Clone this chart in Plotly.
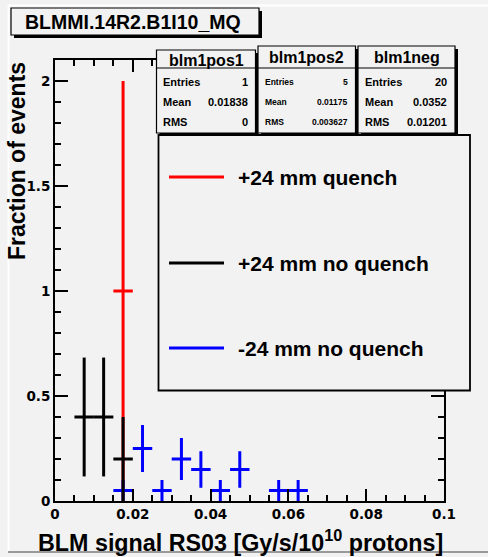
import plotly.graph_objects as go

# ---------------- data ----------------
bin_width = 0.005

red_x = [0.0175]
red_y = [1.0]
red_err = [1.0]

black_x = [0.0075, 0.0125, 0.0175]
black_y = [0.4, 0.4, 0.2]
black_err = [0.283, 0.283, 0.2]

blue_x = [0.0175, 0.0225, 0.0275, 0.0325, 0.0375, 0.0425, 0.0475, 0.0575, 0.0625]
blue_y = [0.05, 0.25, 0.05, 0.20, 0.15, 0.05, 0.15, 0.05, 0.05]
blue_err = [0.05, 0.112, 0.05, 0.10, 0.087, 0.05, 0.087, 0.05, 0.05]

series_names = ["+24 mm quench", "+24 mm no quench", "-24 mm no quench"]
stat_titles = ["blm1pos1", "blm1pos2", "blm1neg"]
stat_entries = ["1", "5", "20"]
stat_means = ["0.01838", "0.01175", "0.0352"]
stat_rms = ["0", "0.003627", "0.01201"]

x_ticks = [0, 0.02, 0.04, 0.06, 0.08, 0.1]
x_ticktext = ["0", "0.02", "0.04", "0.06", "0.08", "0.1"]
y_ticks = [0, 0.5, 1, 1.5, 2]
y_ticktext = ["0", "0.5", "1", "1.5", "2"]

# ---------------- layout geometry (pixels) ----------------
W, H = 488, 557
L, R, T, B = 55, 444, 60, 501
BG = "#f2f2f2"
FONT = "Liberation Sans"


def xp(px):
    return (px - L) / (R - L)


def yp(py):
    return (B - py) / (B - T)


fig = go.Figure()

for xs, ys, es, col in [
    (red_x, red_y, red_err, "#ff0000"),
    (blue_x, blue_y, blue_err, "#0000ff"),
    (black_x, black_y, black_err, "#000000"),
]:
    fig.add_trace(go.Scatter(
        x=xs, y=ys, mode="markers",
        marker=dict(size=2, color=col, opacity=0),
        error_y=dict(type="data", array=es, visible=True, color=col, thickness=3, width=0),
        error_x=dict(type="constant", value=bin_width / 2, visible=True, color=col, thickness=3, width=0),
        showlegend=False, hoverinfo="skip",
    ))

shapes = []
annos = []


def rect(x0, y0, x1, y1, fill=BG, lw=1.2, shadow=0):
    if shadow:
        shapes.append(dict(type="rect", xref="paper", yref="paper",
                           x0=xp(x0 + shadow), x1=xp(x1 + shadow), y0=yp(y0 + shadow), y1=yp(y1 + shadow),
                           fillcolor="black", line=dict(width=0), layer="above"))
    shapes.append(dict(type="rect", xref="paper", yref="paper",
                       x0=xp(x0), x1=xp(x1), y0=yp(y0), y1=yp(y1),
                       fillcolor=fill, line=dict(color="black", width=lw), layer="above"))


def line(x0, y0, x1, y1, col="black", w=1.2):
    shapes.append(dict(type="line", xref="paper", yref="paper",
                       x0=xp(x0), x1=xp(x1), y0=yp(y0), y1=yp(y1),
                       line=dict(color=col, width=w), layer="above"))


def text(x, y, s, size, xanchor="left", yanchor="middle", angle=0, weight="bold"):
    annos.append(dict(xref="paper", yref="paper", x=xp(x), y=yp(y), text=s, showarrow=False,
                      xanchor=xanchor, yanchor=yanchor, textangle=angle,
                      font=dict(family=FONT, size=size, color="black", weight=weight)))


# canvas frame edges
line(8, 5.5, 488, 5.5, col="white", w=2)
line(8.5, 5.5, 8.5, 552, col="white", w=2)
line(8, 552, 488, 552, col="#9a9a9a", w=2)

# title box
rect(11, 8, 259, 35, shadow=3)
text(133, 21.5, "BLMMI.14R2.B1I10_MQ", 19.5, xanchor="center")

# stats boxes
boxes = [(156.5, 50, 255.5, 133), (258, 46, 355.5, 133), (358, 46, 455, 133)]
sizes = [11, 8.5, 11]
for (x0, y0, x1, y1), ttl, en, mn, rm, fs in zip(boxes, stat_titles, stat_entries, stat_means, stat_rms, sizes):
    rect(x0, y0, x1, y1, shadow=3)
    line(x0, 68, x1, 68)
    text((x0 + x1) / 2, (y0 + 68) / 2 + 1, ttl, 16, xanchor="center")
    for yy, lab, val in [(81.5, "Entries", en), (101.5, "Mean", mn), (121.5, "RMS", rm)]:
        text(x0 + 4.5, yy, lab, fs)
        text(x1 - 6, yy, val, fs, xanchor="right")

# legend box
rect(158.5, 135, 470, 390.5, lw=1.8)
for yy, col, name in zip([177, 263, 348], ["#ff0000", "#000000", "#0000ff"], series_names):
    line(169, yy, 224, yy, col=col, w=3)
    text(236, yy, name, 21)

# axis titles
text(17, T, "Fraction of events", 23, xanchor="center", yanchor="top", angle=-90)
text(R + 1, 541, "BLM signal RS03 [Gy/s/10<sup>10</sup> protons]", 23.3, xanchor="right")

axis_common = dict(
    showline=True, linecolor="black", linewidth=2, mirror="allticks",
    ticks="inside", tickcolor="black", tickwidth=1.5,
    showgrid=False, zeroline=False,
    tickfont=dict(family="DejaVu Sans", size=13.5, color="black", weight="bold"),
)

fig.update_layout(
    width=W, height=H,
    margin=dict(l=L, r=W - R, t=T, b=H - B),
    paper_bgcolor=BG, plot_bgcolor=BG,
    showlegend=False,
    xaxis=dict(range=[0, 0.1], tickvals=x_ticks, ticktext=x_ticktext, ticklen=12,
               minor=dict(dtick=0.005, ticks="inside", ticklen=6, tickcolor="black", tickwidth=1.5),
               **axis_common),
    yaxis=dict(range=[0, 2.1], tickvals=y_ticks, ticktext=y_ticktext, ticklen=13,
               minor=dict(dtick=0.1, ticks="inside", ticklen=6, tickcolor="black", tickwidth=1.5),
               **axis_common),
    shapes=shapes,
    annotations=annos,
)

fig.write_html("out.html", config={"displayModeBar": False},
               post_script="document.body.style.margin='0';document.body.style.overflow='hidden';")
